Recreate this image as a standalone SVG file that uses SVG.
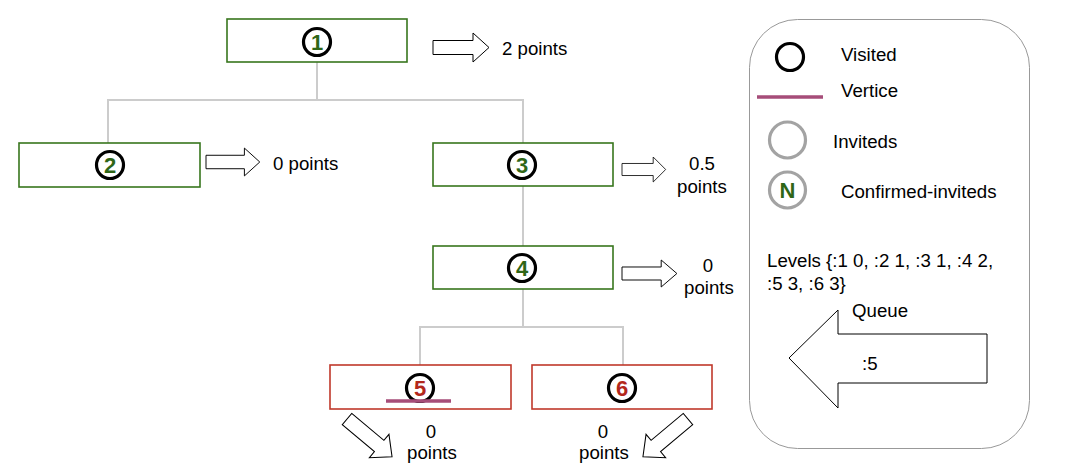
<svg xmlns="http://www.w3.org/2000/svg" width="1068" height="474" viewBox="0 0 1068 474">
<style>
text{font-family:"Liberation Sans",Arial,sans-serif;font-size:18.67px;fill:#000}
.num{font-weight:bold;font-size:22px;text-anchor:middle}
.g{fill:#2f6617}
.r{fill:#b3281c}
.box{fill:#fff;stroke-width:1.6}
.gb{stroke:#38761d}
.rb{stroke:#c0392b}
.vis{fill:#fff;stroke:#000;stroke-width:3.2}
.inv{fill:#fff;stroke:#a3a3a3;stroke-width:3.2}
.conn{fill:none;stroke:#cccccc;stroke-width:2}
.arr{fill:#fff;stroke:#000;stroke-width:1}
.mid{text-anchor:middle}
.vert{stroke:#a64d79;stroke-width:3.5}
</style>
<defs>
<path id="arrow" d="M0,-7 H40 V-14.5 L56,0 L40,14.5 V7 H0 Z"/>
</defs>
<g id="connectors">
<path class="conn" d="M317,62 V100 M108,143 V100 H523 V143 M523,186 V246 M523,289 V327 M420,365 V327 H623 V365"/>
</g>
<g id="node1">
<rect class="box gb" x="227" y="19" width="180" height="43"/>
<circle class="vis" cx="317" cy="42" r="13.5"/>
<text class="num g" x="317" y="50">1</text>
<use href="#arrow" class="arr" transform="translate(433,47.5)"/>
<text x="502" y="55">2 points</text>
</g>
<g id="node2">
<rect class="box gb" x="19" y="143" width="181" height="44"/>
<circle class="vis" cx="110" cy="165" r="13.5"/>
<text class="num g" x="110" y="173">2</text>
<use href="#arrow" class="arr" transform="translate(206,162) scale(0.96)"/>
<text x="273" y="170">0 points</text>
</g>
<g id="node3">
<rect class="box gb" x="433" y="143" width="180" height="43"/>
<circle class="vis" cx="522" cy="165" r="13.5"/>
<text class="num g" x="522" y="173">3</text>
<use href="#arrow" class="arr" transform="translate(622,169.5) scale(0.78,0.86)"/>
<text class="mid" x="702" y="170">0.5</text>
<text class="mid" x="702" y="193">points</text>
</g>
<g id="node4">
<rect class="box gb" x="433" y="246" width="180" height="43"/>
<circle class="vis" cx="522" cy="268" r="13.5"/>
<text class="num g" x="522" y="276">4</text>
<use href="#arrow" class="arr" transform="translate(622,273.5) scale(0.98,0.93)"/>
<text class="mid" x="708" y="272">0</text>
<text class="mid" x="709" y="294">points</text>
</g>
<g id="node5">
<rect class="box rb" x="330" y="365" width="181" height="44"/>
<circle class="vis" cx="420" cy="388" r="13.5"/>
<text class="num r" x="420" y="396">5</text>
<line class="vert" x1="386" y1="401" x2="451" y2="401"/>
<use href="#arrow" class="arr" transform="translate(347,419) rotate(40) scale(1.05)"/>
<text class="mid" x="431" y="438">0</text>
<text class="mid" x="432" y="459">points</text>
</g>
<g id="node6">
<rect class="box rb" x="532" y="365" width="180" height="44"/>
<circle class="vis" cx="622" cy="388" r="13.5"/>
<text class="num r" x="622" y="396">6</text>
<use href="#arrow" class="arr" transform="translate(688,419) rotate(140) scale(1.05)"/>
<text class="mid" x="603" y="438">0</text>
<text class="mid" x="604" y="459">points</text>
</g>
<g id="legend">
<rect x="749.5" y="19.5" width="280" height="429" rx="48" ry="48" fill="#fff" stroke="#999" stroke-width="1"/>
<circle class="vis" cx="790" cy="57" r="13.5"/>
<text x="841" y="61">Visited</text>
<line class="vert" x1="757" y1="97" x2="823" y2="97"/>
<text x="841" y="97">Vertice</text>
<circle class="inv" cx="787.5" cy="140" r="18"/>
<text x="833" y="148">Inviteds</text>
<circle class="inv" cx="787.5" cy="190" r="18"/>
<text class="num g" x="787.5" y="198">N</text>
<text x="841" y="198">Confirmed-inviteds</text>
<text x="767" y="267">Levels {:1 0, :2 1, :3 1, :4 2,</text>
<text x="767" y="290">:5 3, :6 3}</text>
<path class="arr" d="M789,358 L838,310 V334 H987 V383 H838 V408 Z"/>
<text x="852" y="317">Queue</text>
<text x="862" y="370">:5</text>
</g>
</svg>
